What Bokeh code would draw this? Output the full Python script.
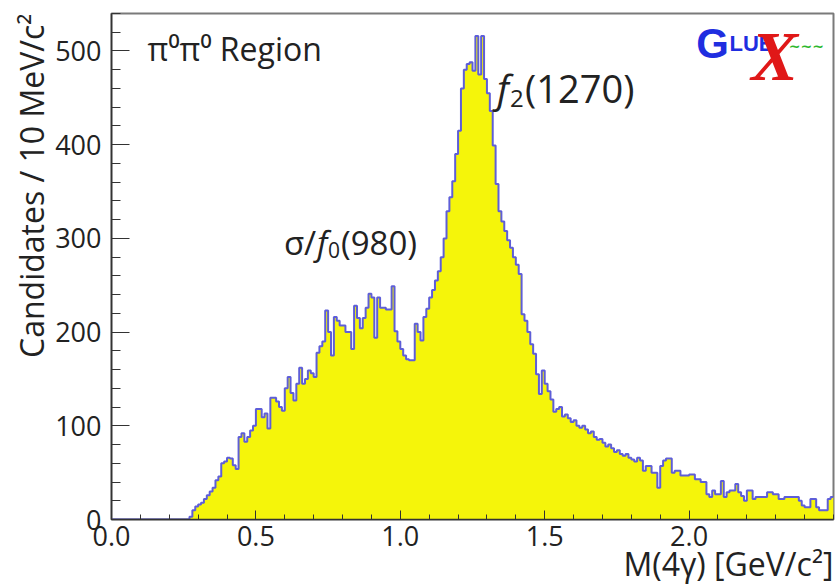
import numpy as np
from bokeh.plotting import figure
from bokeh.models import Range1d, SingleIntervalTicker, FixedTicker, NumeralTickFormatter, Label, Title
from bokeh.embed import file_html
from bokeh.resources import INLINE

# ---------------- data ----------------
bin_width = 0.01          # GeV (10 MeV bins)
x_min, x_max = 0.0, 2.5
y_min, y_max = 0, 540

counts = [
    # 0.00 - 0.26
    0, 0, 0, 0, 0, 0, 0, 0, 0, 0,
    0, 0, 0, 0, 0, 0, 0, 0, 0, 0,
    0, 0, 0, 0, 0, 0, 0,
    # 0.27 - 0.99
    3, 10, 14, 16, 18, 22, 26, 30, 34, 42, 46, 60, 62,
    66, 65, 58, 54, 88, 92, 83, 88, 95, 100,
    118, 118, 109, 113, 97, 130, 130, 126, 120, 116,
    140, 152, 135, 127, 145, 162, 145, 150, 159, 156,
    152, 178, 185, 190, 223, 200, 175, 216, 212, 207,
    207, 200, 200, 182, 228, 215, 204, 215, 226, 241,
    237, 194, 237, 226, 226, 224, 224, 249, 201, 190,
    # 1.00 - 1.49
    182, 175, 171, 170, 170, 209, 200, 191, 216, 225,
    237, 245, 255, 265, 280, 300, 329, 344, 361, 390,
    415, 460, 480, 486, 488, 479, 516, 475, 516, 470,
    455, 436, 399, 358, 329, 318, 308, 298, 290, 280,
    272, 262, 219, 212, 200, 187, 177, 155, 134, 159,
    # 1.50 - 1.99
    145, 137, 128, 115, 118, 120, 110, 112, 108, 104,
    106, 100, 98, 100, 96, 92, 94, 88, 85, 86,
    82, 78, 80, 76, 72, 74, 70, 68, 70, 66,
    64, 62, 66, 63, 52, 57, 57, 50, 50, 34,
    57, 63, 65, 65, 50, 52, 52, 47, 47, 47,
    # 2.00 - 2.49
    48, 48, 43, 43, 40, 40, 27, 24, 31, 27,
    27, 41, 24, 29, 31, 31, 38, 29, 25, 20,
    31, 31, 22, 24, 24, 24, 24, 29, 29, 27,
    27, 22, 22, 24, 24, 24, 24, 24, 20, 15,
    13, 13, 22, 22, 13, 10, 10, 10, 22, 24,
]

x_major_ticks = [0.0, 0.5, 1.0, 1.5, 2.0]
x_minor_step = 0.1
y_tick_interval = 100
x_label = "M(4\u03b3) [GeV/c\u00b2]"
y_label = "Candidates / 10 MeV/c\u00b2"
region_label = "\u03c0\u2070\u03c0\u2070 Region"

# ---------------- derived ----------------
edges = x_min + bin_width * np.arange(len(counts) + 1)
step_y = list(counts) + [counts[-1]]
x_minor_ticks = list(np.round(np.arange(x_min, x_max + 1e-9, x_minor_step), 3))

FONT = "Open Sans"
FILL = "#f5f50a"
LINE = "#5e5ed8"
TXT = "#222222"

p = figure(
    width=837, height=587,
    x_range=Range1d(x_min, x_max), y_range=Range1d(y_min, y_max),
    output_backend="svg", toolbar_location=None,
    min_border_left=111, min_border_right=4, min_border_top=13, min_border_bottom=68,
)
p.background_fill_color = "white"
p.border_fill_color = "white"
p.outline_line_color = "#7a7a7a"
p.outline_line_width = 2
p.xgrid.visible = False
p.ygrid.visible = False

# histogram fill + outline
p.varea_step(x=edges, y1=np.zeros(len(edges)), y2=step_y, step_mode="after",
             fill_color=FILL)
p.step(x=edges, y=step_y, mode="after", line_color=LINE, line_width=2)

# axes
for ax in (p.xaxis[0], p.yaxis[0]):
    ax.axis_line_color = "#333333"
    ax.axis_line_width = 1.5
    ax.major_tick_line_color = "#333333"
    ax.minor_tick_line_color = "#333333"
    ax.major_tick_out = 0
    ax.minor_tick_out = 0
    ax.major_label_text_font = FONT
    ax.major_label_text_font_size = "27px"
    ax.major_label_text_color = TXT
    ax.axis_label_text_font = FONT
    ax.axis_label_text_font_size = "32px"
    ax.axis_label_text_font_style = "normal"
    ax.axis_label_text_color = TXT

p.xaxis.ticker = FixedTicker(ticks=x_major_ticks, minor_ticks=x_minor_ticks)
p.xaxis.formatter = NumeralTickFormatter(format="0.0")
p.xaxis.major_tick_in = 9
p.xaxis.minor_tick_in = 5
p.xaxis.major_label_standoff = 6

p.yaxis.ticker = SingleIntervalTicker(interval=y_tick_interval, num_minor_ticks=5)
p.yaxis.formatter = NumeralTickFormatter(format="0")
p.yaxis.major_tick_in = 18
p.yaxis.minor_tick_in = 9
p.yaxis.major_label_standoff = 10

# axis titles (right / top aligned like ROOT)
try:
    p.xaxis.axis_label_align = "right"
    p.yaxis.axis_label_align = "right"
    p.xaxis.axis_label = x_label
    p.yaxis.axis_label = y_label
    p.xaxis.axis_label_standoff = -17
    p.yaxis.axis_label_standoff = 3
except Exception:
    p.add_layout(Title(text=x_label, align="right", text_font=FONT,
                       text_font_size="32px", text_font_style="normal",
                       text_color=TXT, standoff=-17), "below")
    p.add_layout(Title(text=y_label, align="right", text_font=FONT,
                       text_font_size="32px", text_font_style="normal",
                       text_color=TXT, standoff=0), "left")

# annotations
p.add_layout(Label(x=0.125, y=503, text=region_label, text_font=FONT,
                   text_font_size="32px", text_color=TXT,
                   text_baseline="alphabetic"))

def compose(x, y, parts):
    for text, dx, dy, size, style in parts:
        p.add_layout(Label(x=x, y=y, x_offset=dx, y_offset=dy, text=text,
                           text_font=FONT, text_font_size=size,
                           text_font_style=style, text_color=TXT,
                           text_baseline="alphabetic"))

compose(0.597, 296, [("\u03c3/", 0, 0, "33px", "normal"),
                     ("f", 33, 0, "33px", "italic"),
                     ("0", 44, -8, "21px", "normal"),
                     ("(980)", 57, 0, "33px", "normal")])
compose(1.335, 460, [("f", 0, 0, "38px", "italic"),
                     ("2", 13, -10, "24px", "normal"),
                     ("(1270)", 28, 0, "38px", "normal")])

# GlueX logo
p.add_layout(Label(x=2.025, y=508, text="G", text_font="Liberation Sans",
                   text_font_style="bold", text_font_size="42px",
                   text_color="#1f2ee0", text_baseline="alphabetic"))
p.add_layout(Label(x=2.14, y=508, text="LUE", text_font="Liberation Sans",
                   text_font_style="bold", text_font_size="22px",
                   text_color="#1f2ee0", text_baseline="alphabetic"))
p.add_layout(Label(x=2.215, y=494, text="X", text_font="Liberation Serif",
                   text_font_style="bold italic", text_font_size="70px",
                   text_color="#e01818", text_baseline="alphabetic"))
p.add_layout(Label(x=2.345, y=505, text="~~~", text_font="DejaVu Sans",
                   text_font_style="bold", text_font_size="14px",
                   text_color="#2db82d", text_baseline="middle"))

open("out.html", "w").write(file_html(p, INLINE))
